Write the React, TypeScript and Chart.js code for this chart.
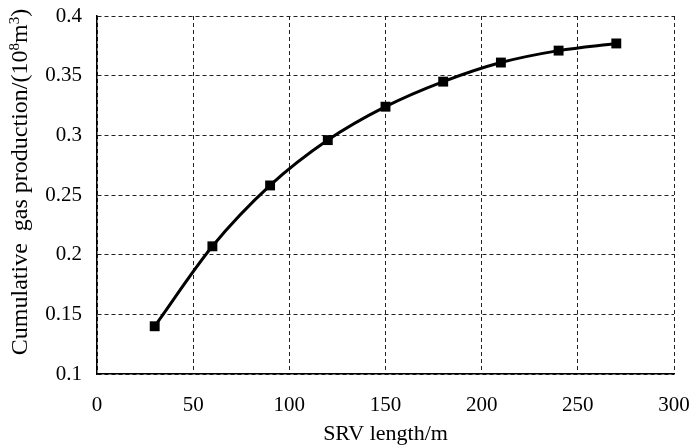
import React, { useEffect, useRef } from "react";
import { Chart, registerables } from "chart.js";

Chart.register(...registerables);

const srvLength = [30, 60, 90, 120, 150, 180, 210, 240, 270];
const gasProduction = [0.14, 0.207, 0.258, 0.296, 0.324, 0.345, 0.361, 0.371, 0.377];
const xTitle = "SRV length/m";
// y title pieces: [text, isSuperscript]
const yTitleParts: [string, boolean][] = [
  ["Cumulative  gas production/(10", false],
  ["8", true],
  ["m", false],
  ["3", true],
  [")", false],
];

const FONT = "'Liberation Serif', 'Times New Roman', serif";

const yTitlePlugin = {
  id: "yTitlePlugin",
  afterDraw(chart: any) {
    const ctx = chart.ctx as CanvasRenderingContext2D;
    const area = chart.chartArea;
    const size = 24;
    const supSize = 15;
    const parts = yTitleParts.map(([t, sup]) => {
      ctx.font = `${sup ? supSize : size}px ${FONT}`;
      return { t, sup, w: ctx.measureText(t).width };
    });
    const total = parts.reduce((a, p) => a + p.w, 0);
    const centerY = (area.top + area.bottom) / 2 - 13;
    ctx.save();
    ctx.translate(27, centerY + total / 2);
    ctx.rotate(-Math.PI / 2);
    ctx.fillStyle = "#000";
    ctx.textBaseline = "alphabetic";
    ctx.textAlign = "left";
    let x = 0;
    for (const p of parts) {
      ctx.font = `${p.sup ? supSize : size}px ${FONT}`;
      ctx.fillText(p.t, x, p.sup ? -8 : 0);
      x += p.w;
    }
    ctx.restore();
  },
};

export default function App() {
  const ref = useRef<HTMLCanvasElement | null>(null);
  useEffect(() => {
    if (!ref.current) return;
    const chart = new Chart(ref.current, {
      type: "line",
      data: {
        datasets: [
          {
            data: srvLength.map((x, i) => ({ x, y: gasProduction[i] })),
            borderColor: "#000",
            backgroundColor: "#000",
            borderWidth: 3,
            cubicInterpolationMode: "monotone",
            pointStyle: "rect",
            pointRadius: 7,
            pointBorderWidth: 0,
          },
        ],
      },
      plugins: [yTitlePlugin],
      options: {
        animation: false,
        responsive: false,
        devicePixelRatio: 1,
        layout: { padding: { top: 16, right: 19, left: 0, bottom: 0 } },
        plugins: { legend: { display: false }, tooltip: { enabled: false } },
        scales: {
          x: {
            type: "linear",
            min: 0,
            max: 300,
            ticks: { stepSize: 50, color: "#000", font: { family: FONT, size: 21 }, padding: 19 },
            grid: { color: "#222", drawTicks: false, lineWidth: 1 },
            border: { display: true, color: "#000", width: 1.5, dash: [4, 3] } as any,
            title: { display: true, text: xTitle, color: "#000", font: { family: FONT, size: 22, lineHeight: 1 }, padding: { top: 0, bottom: 0 } },
            afterFit: (s: any) => { s.height = 71; s.paddingLeft = 0; s.paddingRight = 0; },
          },
          y: {
            min: 0.1,
            max: 0.4,
            ticks: { stepSize: 0.05, color: "#000", font: { family: FONT, size: 21 }, padding: 15,
              callback: (v: any) => String(Math.round(Number(v) * 100) / 100) },
            grid: { color: "#222", drawTicks: false, lineWidth: 1 },
            border: { display: true, color: "#000", width: 1.5, dash: [4, 3] } as any,
            title: { display: false },
            afterFit: (s: any) => { s.width = 97; s.paddingTop = 0; s.paddingBottom = 0; },
          },
        },
      } as any,
    });
    return () => chart.destroy();
  }, []);
  return (
    <div style={{ position: "fixed", left: 0, top: 0, width: 693, height: 445, background: "#fff" }}>
      <canvas ref={ref} width={693} height={445} style={{ width: 693, height: 445 }} />
    </div>
  );
}
